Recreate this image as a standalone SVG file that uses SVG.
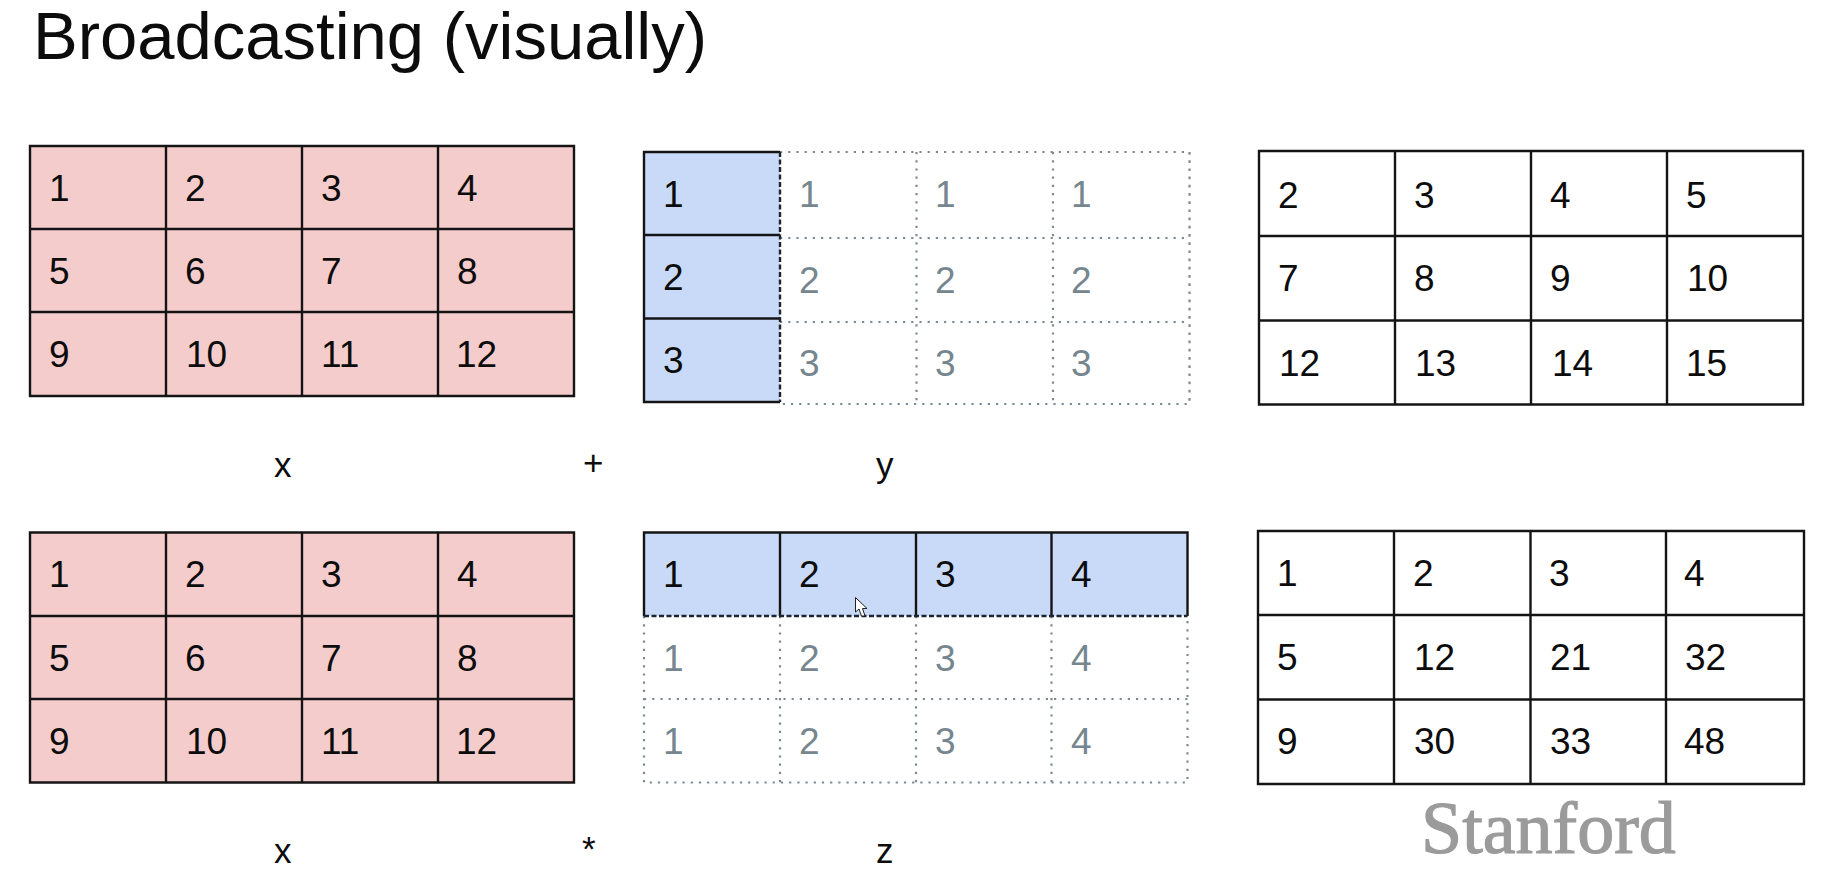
<svg xmlns="http://www.w3.org/2000/svg" width="1823" height="876" viewBox="0 0 1823 876">
<style>
text{font-family:"Liberation Sans",Arial,sans-serif;fill:#0c0c0c}
.t{font-size:67px}
.n{font-size:37px}
.g{fill:#76868f}
.l{font-size:35px}
.s{font-family:"Liberation Serif","Times New Roman",serif;font-size:74px;fill:#9b9b9b;stroke:#9b9b9b;stroke-width:1.2px}
.p{fill:#f4cccc}
.b{fill:#c9daf8}
.k{fill:none;stroke:#141414;stroke-width:2.4}
.d{fill:none;stroke:#7d8a92;stroke-width:2.2;stroke-dasharray:2.2 6}
.e{fill:none;stroke:#1c2530;stroke-width:2.4;stroke-dasharray:5 2.5}
</style>
<rect width="1823" height="876" fill="#fff"/>
<text id="title" class="t" x="33" y="59">Broadcasting (visually)</text>

<g id="matrix-x-top">
<rect class="p" x="30" y="146" width="544" height="250"/>
<path class="k" d="M30 146H574V396H30ZM166 146V396M302 146V396M438 146V396M30 229H574M30 312H574"/>
<g class="n"><text x="49" y="201">1</text><text x="185" y="201">2</text><text x="321" y="201">3</text><text x="457" y="201">4</text>
<text x="49" y="284">5</text><text x="185" y="284">6</text><text x="321" y="284">7</text><text x="457" y="284">8</text>
<text x="49" y="367">9</text><text x="186" y="367">10</text><text x="321" y="367">11</text><text x="456" y="367">12</text></g>
</g>

<g id="matrix-y">
<path class="d" d="M780 152H1189.500V404H780M780 238H1189.500M780 322H1189.500M916.500 152V404M1053 152V404M1189.500 152V404"/>
<rect class="b" x="644" y="152" width="136" height="250"/>
<path class="k" d="M780 152H644V402H780M644 235H780M644 318.500H780"/>
<path class="e" d="M780 152V402"/>
<g class="n"><text x="663" y="207">1</text><text x="663" y="290">2</text><text x="663" y="373">3</text></g>
<g class="n"><text class="g" x="799" y="207">1</text><text class="g" x="935" y="207">1</text><text class="g" x="1071" y="207">1</text>
<text class="g" x="799" y="293">2</text><text class="g" x="935" y="293">2</text><text class="g" x="1071" y="293">2</text>
<text class="g" x="799" y="376">3</text><text class="g" x="935" y="376">3</text><text class="g" x="1071" y="376">3</text></g>
</g>

<g id="matrix-sum">
<path class="k" d="M1259 151H1803V404.500H1259ZM1395 151V404.500M1531 151V404.500M1667 151V404.500M1259 236H1803M1259 320.500H1803"/>
<g class="n"><text x="1278" y="207.500">2</text><text x="1414" y="207.500">3</text><text x="1550" y="207.500">4</text><text x="1686" y="207.500">5</text>
<text x="1278" y="291">7</text><text x="1414" y="291">8</text><text x="1550" y="291">9</text><text x="1687" y="291">10</text>
<text x="1279" y="376">12</text><text x="1415" y="376">13</text><text x="1552" y="376">14</text><text x="1686" y="376">15</text></g>
</g>

<text class="l" x="274" y="477">x</text>
<text class="l" x="583" y="475">+</text>
<text class="l" x="876" y="477">y</text>

<g id="matrix-x-bottom">
<rect class="p" x="30" y="532.500" width="544" height="250"/>
<path class="k" d="M30 532.500H574V782.500H30ZM166 532.500V782.500M302 532.500V782.500M438 532.500V782.500M30 616H574M30 699H574"/>
<g class="n"><text x="49" y="587">1</text><text x="185" y="587">2</text><text x="321" y="587">3</text><text x="457" y="587">4</text>
<text x="49" y="671">5</text><text x="185" y="671">6</text><text x="321" y="671">7</text><text x="457" y="671">8</text>
<text x="49" y="754">9</text><text x="186" y="754">10</text><text x="321" y="754">11</text><text x="456" y="754">12</text></g>
</g>

<g id="matrix-z">
<path class="d" d="M644 616V782.500H1187.500V616M780 616V782.500M916 616V782.500M1051.500 616V782.500M644 699H1187.500"/>
<rect class="b" x="644" y="532.500" width="543.500" height="83.500"/>
<path class="k" d="M644 616V532.500H1187.500V616M780 532.500V616M916 532.500V616M1051.500 532.500V616"/>
<path class="e" d="M644 616H1187.500"/>
<g class="n"><text x="663" y="587">1</text><text x="799" y="587">2</text><text x="935" y="587">3</text><text x="1071" y="587">4</text></g>
<g class="n"><text class="g" x="663" y="671">1</text><text class="g" x="799" y="671">2</text><text class="g" x="935" y="671">3</text><text class="g" x="1071" y="671">4</text>
<text class="g" x="663" y="754">1</text><text class="g" x="799" y="754">2</text><text class="g" x="935" y="754">3</text><text class="g" x="1071" y="754">4</text></g>
<path d="M855.500 597.500V612L859 609L861.500 616H865L862.500 608.500H867Z" fill="#fff" stroke="#222" stroke-width="1"/>
</g>

<g id="matrix-product">
<path class="k" d="M1258 531H1804V784H1258ZM1394 531V784M1530.500 531V784M1666 531V784M1258 615H1804M1258 699.500H1804"/>
<g class="n"><text x="1277" y="586">1</text><text x="1413" y="586">2</text><text x="1549" y="586">3</text><text x="1684" y="586">4</text>
<text x="1277" y="670">5</text><text x="1414" y="670">12</text><text x="1550" y="670">21</text><text x="1685" y="670">32</text>
<text x="1277" y="753.500">9</text><text x="1414" y="753.500">30</text><text x="1550" y="753.500">33</text><text x="1684" y="753.500">48</text></g>
</g>

<text class="l" x="274" y="863">x</text>
<text class="l" x="582" y="861">*</text>
<text class="l" x="876" y="863">z</text>
<text class="s" x="1421" y="853">Stanford</text>
</svg>
